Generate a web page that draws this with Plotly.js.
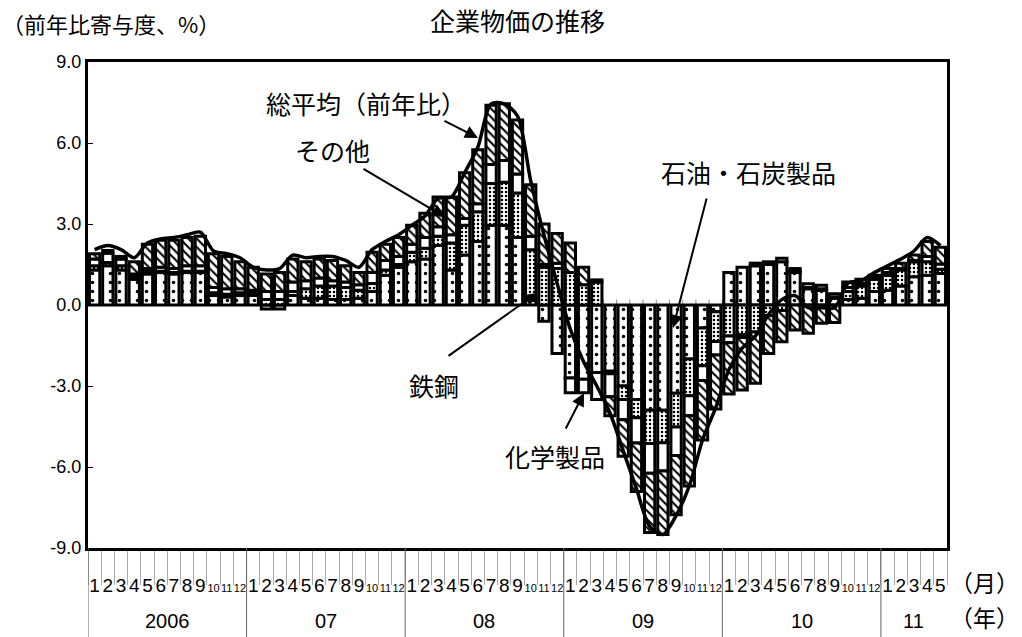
<!DOCTYPE html>
<html><head><meta charset="utf-8">
<script src="https://cdn.plot.ly/plotly-3.0.1.min.js"></script>
<style>body{margin:0;background:#fff}#chart{width:1022px;height:637px}</style>
</head><body><div id="chart"></div>
<script>
// ---- data ----
const years = [
 '2006','2006','2006','2006','2006','2006','2006','2006','2006','2006','2006','2006',
 '07','07','07','07','07','07','07','07','07','07','07','07',
 '08','08','08','08','08','08','08','08','08','08','08','08',
 '09','09','09','09','09','09','09','09','09','09','09','09',
 '10','10','10','10','10','10','10','10','10','10','10','10',
 '11','11','11','11','11'];
const months = [
 '1','2','3','4','5','6','7','8','9','10','11','12',
 '1','2','3','4','5','6','7','8','9','10','11','12',
 '1','2','3','4','5','6','7','8','9','10','11','12',
 '1','2','3','4','5','6','7','8','9','10','11','12',
 '1','2','3','4','5','6','7','8','9','10','11','12',
 '1','2','3','4','5'];
// 石油・石炭製品
const oil = [1.3,1.45,1.3,0.95,1.15,1.2,1.15,1.2,1.2,0.35,0.3,0.35,
 0.35,-0.15,-0.15,0.35,0.25,0.25,0.2,0.2,0.25,0.5,1.1,1.4,
 1.6,1.7,2.2,1.3,1.85,2.35,2.95,2.95,2.5,0.3,-0.6,-1.8,
 -2.7,-2.75,-2.5,-2.45,-3.0,-3.5,-3.9,-3.9,-3.27,-2.0,-0.85,-0.25,
 1.2,1.4,1.45,1.5,1.6,1.2,0.6,0.55,0.25,0.2,0.25,0.5,
 0.55,0.7,1.05,1.1,1.17];
// 鉄鋼
const steel = [0.15,0.12,0.15,0.1,0.1,0.05,0.05,0.05,0.05,0.1,0.1,0.1,
 0.1,0.2,0.2,0.15,0.35,0.45,0.5,0.45,0.3,0.3,0.2,0.1,
 0.35,0.4,0.35,1.0,1.1,1.1,1.55,1.6,1.65,1.75,1.4,1.35,
 1.2,0.75,0.85,-0.1,-0.5,-0.68,-1.23,-1.2,-1.25,-1.36,-1.4,-1.1,
 -1.15,-1.1,-1.0,-0.4,-0.2,0.05,0.05,0.05,0.05,0.3,0.45,0.45,
 0.55,0.6,0.55,0.5,0.15];
// 化学製品
const chem = [0.25,0.35,0.25,0.1,0.1,0.15,0.15,0.2,0.2,0.2,0.2,0.15,
 0.1,0.3,0.3,0.35,0.3,0.3,0.2,0.2,0.2,0.4,0.35,0.3,
 0.3,0.4,0.35,0.3,0.25,0.3,0.7,0.8,0.7,0.5,0.1,0.2,
 -0.55,-0.5,-1.0,-0.85,-0.75,-0.93,-1.1,-1.05,-1.05,-0.74,-0.55,-0.5,
 -0.25,-0.1,0.1,0.1,0.13,0.1,0.14,0.13,0.12,0.15,0.1,0.05,
 0.1,0.05,0.05,0.2,0.2];
// その他
const other = [0.2,0.1,0.1,0.45,0.9,1.0,1.05,1.05,1.1,1.25,1.2,1.0,
 0.85,0.65,0.7,0.85,0.7,0.7,0.75,0.6,0.45,0.75,0.6,0.7,
 0.7,0.9,1.1,1.4,1.7,2.0,2.2,2.1,2.0,1.9,1.5,1.1,
 1.1,0.65,0.08,-0.7,-1.35,-1.8,-2.2,-2.35,-2.2,-2.6,-2.2,-2.0,
 -1.9,-1.95,-1.9,-1.4,-1.16,-0.93,-1.05,-0.68,-0.65,0.2,0.15,0.1,
 0.15,0.2,0.2,0.55,0.62];
// 総平均（前年比）
const total = [2.05,2.2,2.05,1.75,2.3,2.45,2.5,2.6,2.7,2.0,1.9,1.75,
 1.4,1.3,1.35,1.85,1.75,1.8,1.8,1.65,1.4,2.05,2.35,2.6,
 2.95,3.3,3.95,4.0,4.9,5.85,7.45,7.45,7.0,4.6,2.6,0.8,
 -0.9,-2.1,-3.0,-4.0,-5.4,-6.8,-8.2,-8.5,-7.8,-6.7,-5.0,-3.8,
 -2.4,-1.6,-1.15,-0.35,0.2,0.35,-0.1,-0.1,-0.1,0.8,0.9,1.2,
 1.45,1.7,2.0,2.5,2.2];
const yTickVals = [-9,-6,-3,0,3,6,9];
const yTickText = ['-9.0','-6.0','-3.0','0.0','3.0','6.0','9.0'];

// ---- drawing ----
const LAT = '"Liberation Sans", Arial, "Noto Sans CJK JP", sans-serif';
const JP = '"Noto Sans CJK JP", "Liberation Sans", sans-serif';
const xs = months.map((m, i) => i);
// two-digit months set smaller so that neighbouring labels do not collide
const monthText = months.map(m => m.length > 1 ? '<span style="font-size:11px">' + m + '</span>' : m);
const outline = {color:'black', width:3};
function bar(name, vals, pattern){
  return {type:'bar', name:name, x:xs, y:vals,
    marker:{color:'white', line:outline, pattern:pattern}, hoverinfo:'y+name'};
}
const traces = [
  bar('石油・石炭製品', oil, {shape:'.', fgcolor:'black', bgcolor:'white', size:9, solidity:0.12}),
  bar('鉄鋼', steel, {shape:'.', fgcolor:'black', bgcolor:'white', size:4, solidity:0.3}),
  bar('化学製品', chem, {shape:''}),
  bar('その他', other, {shape:'\\', fgcolor:'black', bgcolor:'white', size:6, solidity:0.35}),
  {type:'scatter', mode:'lines', name:'総平均（前年比）', x:xs, y:total,
   line:{color:'black', width:3.5, shape:'spline', smoothing:0.8}}
];

const L = 88, R = 947, T = 62, B = 548;
const px = v => (v - L) / (R - L);
const py = v => (B - v) / (B - T);
function label(text, cx, cy, size, anchor){
  return {text:text, x:px(cx), y:py(cy), xref:'paper', yref:'paper', showarrow:false,
    xanchor:anchor||'center', yanchor:'middle', font:{family:JP, size:size, color:'black'}};
}
function arrow(tailX, tailY, tipX, tipY){
  return {text:'', x:px(tipX), y:py(tipY), xref:'paper', yref:'paper', showarrow:true,
    ax:tailX-tipX, ay:tailY-tipY, axref:'pixel', ayref:'pixel',
    arrowhead:2, arrowsize:1.3, arrowwidth:2, arrowcolor:'black', standoff:0, startstandoff:0};
}
const annotations = [
  label('（前年比寄与度、%）', 0, 23, 22, 'left'),
  label('総平均（前年比）', 366, 103, 25),
  arrow(443, 120, 478, 138),
  label('その他', 332, 150, 25),
  arrow(362, 168, 445, 217),
  label('石油・石炭製品', 748, 172, 25),
  arrow(707, 197, 673, 328),
  label('鉄鋼', 434, 385, 25),
  arrow(447, 357, 537, 293),
  label('化学製品', 555, 456, 25),
  arrow(565, 430, 584, 393),
  label('（月）', 985, 582, 23),
  label('（年）', 985, 617, 23)
];
// year group labels and dividers, derived from the years array
const shapes = [];
let start = 0;
for (let i = 1; i <= years.length; i++) {
  if (i === years.length || years[i] !== years[start]) {
    annotations.push({text:years[start], x:(start + i - 1) / 2, xref:'x', y:py(621), yref:'paper',
      showarrow:false, xanchor:'center', yanchor:'middle', font:{family:LAT, size:20, color:'black'}});
    shapes.push({type:'line', xref:'x', yref:'paper', x0:start - 0.5, x1:start - 0.5,
      y0:0, y1:py(637), line:{color:'#666', width:1}});
    start = i;
  }
}
// small category ticks on the zero line (hidden behind bars, as in the reference)
xs.forEach(i => shapes.push({type:'line', xref:'x', yref:'y', layer:'below',
  x0:i + 0.5, x1:i + 0.5, y0:0, y1:0.2, line:{color:'#888', width:1}}));

const layout = {
  width:1022, height:637,
  margin:{l:L, r:1022-R, t:T, b:637-B, pad:0},
  paper_bgcolor:'white', plot_bgcolor:'white',
  barmode:'relative', bargap:0.22,
  showlegend:false,
  font:{family:LAT, color:'black', size:18},
  title:{text:'企業物価の推移', font:{family:JP, size:25, color:'black'},
    x:0.5, xref:'paper', xanchor:'center', y:1-22/637, yref:'container', yanchor:'middle'},
  xaxis:{range:[-0.5, 64.5], tickmode:'array', tickvals:xs, ticktext:monthText,
    ticks:'outside', ticklen:18, tickcolor:'rgba(0,0,0,0)', tickangle:0,
    tickfont:{family:LAT, size:19, color:'black'},
    minor:{tickmode:'linear', tick0:0.5, dtick:1, ticks:'outside', ticklen:34, tickcolor:'#aaa', tickwidth:1, showgrid:false},
    showline:true, linewidth:3, linecolor:'black', mirror:true, showgrid:false, zeroline:false},
  yaxis:{range:[-9,9], tickmode:'array', tickvals:yTickVals, ticktext:yTickText,
    ticks:'inside', ticklen:5, tickcolor:'black', tickwidth:1,
    showline:true, linewidth:3, linecolor:'black', mirror:true, showgrid:false,
    zeroline:true, zerolinecolor:'black', zerolinewidth:2,
    tickfont:{family:LAT, size:18, color:'black'}},
  annotations:annotations,
  shapes:shapes
};
Plotly.newPlot('chart', traces, layout, {displayModeBar:false, staticPlot:true});
</script></body></html>
